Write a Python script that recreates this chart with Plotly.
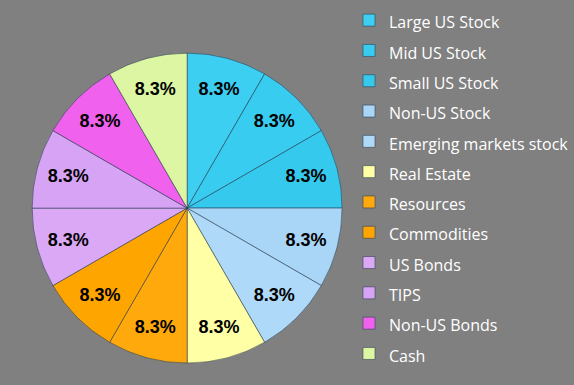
import plotly.graph_objects as go

labels = ["Large US Stock", "Mid US Stock", "Small US Stock", "Non-US Stock",
          "Emerging markets stock", "Real Estate", "Resources", "Commodities",
          "US Bonds", "TIPS", "Non-US Bonds", "Cash"]
values = [8.3, 8.3, 8.3, 8.3, 8.3, 8.3, 8.3, 8.3, 8.3, 8.3, 8.3, 8.3]
colors = ["#3CCFF2", "#38CCF0", "#36C9EE", "#A9D5F6", "#AFD9F8", "#FFFFA6",
          "#FFA90D", "#FFA500", "#DBA8F5", "#D7A4F5", "#F062EE", "#DCF6A3"]

legend_names = ['<span style="font-size:16px">%s</span>' % l for l in labels]

fig = go.Figure(go.Pie(
    labels=legend_names,
    values=values,
    sort=False,
    direction="clockwise",
    rotation=0,
    marker=dict(colors=colors, line=dict(color="rgba(40,60,80,0.55)", width=1)),
    texttemplate="8.3%",
    textinfo="text",
    textposition="inside",
    insidetextorientation="horizontal",
    textfont=dict(family="Liberation Sans", size=18, color="black", weight="bold"),
    domain=dict(x=[0.054, 0.598], y=[0.057, 0.862]),
    hoverinfo="label+percent",
))

fig.update_layout(
    width=574, height=385,
    margin=dict(l=0, r=0, t=0, b=0),
    paper_bgcolor="#808080",
    plot_bgcolor="#808080",
    showlegend=True,
    legend=dict(
        x=0.608, y=0.041, xanchor="left", yanchor="bottom",
        font=dict(family="Open Sans", size=21, color="white"),
        bgcolor="rgba(0,0,0,0)",
    ),
)

fig.write_html("out.html", config={"displayModeBar": False},
               post_script="document.body.style.margin='0';document.body.style.overflow='hidden';")
